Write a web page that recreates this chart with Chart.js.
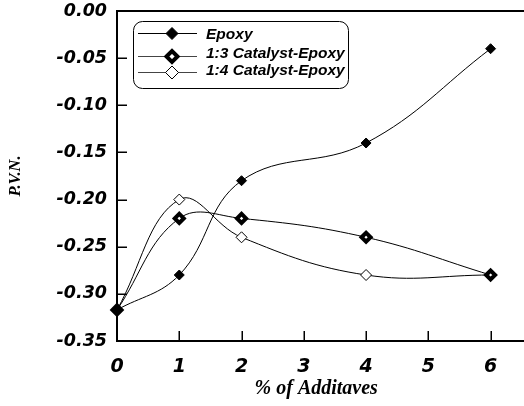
<!DOCTYPE html>
<html>
<head>
<meta charset="utf-8">
<script src="https://cdn.jsdelivr.net/npm/chart.js@4.4.1/dist/chart.umd.min.js"></script>
<style>
  html, body { margin: 0; padding: 0; background: #ffffff; }
  #wrap { width: 524px; height: 406px; position: relative; }
</style>
</head>
<body>
<div id="wrap"><canvas id="pvn"></canvas></div>
<script>
// Additive content (%) and P.V.N. values for each resin system
const additive = [0, 1, 2, 4, 6];
const epoxy = [-0.317, -0.28, -0.18, -0.14, -0.04];
const catalyst13 = [-0.317, -0.22, -0.22, -0.24, -0.28];
const catalyst14 = [-0.317, -0.20, -0.24, -0.28, -0.28];
const seriesNames = ['Epoxy', '1:3 Catalyst-Epoxy', '1:4 Catalyst-Epoxy'];
const xTickValues = [0, 1, 2, 3, 4, 5, 6];

const pairs = ys => additive.map((x, i) => ({ x: x, y: ys[i] }));

const markerStyles = [
  { pointStyle: 'rectRot', radius: 5, backgroundColor: '#000', borderColor: '#000', borderWidth: 1 },
  { pointStyle: 'rectRot', radius: 4.5, backgroundColor: '#fff', borderColor: '#000', borderWidth: 4 },
  { pointStyle: 'rectRot', radius: 5.5, backgroundColor: '#fff', borderColor: '#000', borderWidth: 1 }
];

const datasets = [epoxy, catalyst13, catalyst14].map((ys, i) => ({
  label: seriesNames[i],
  data: pairs(ys),
  showLine: true,
  tension: 0.4,
  borderColor: '#000',
  borderWidth: 1,
  pointStyle: markerStyles[i].pointStyle,
  pointRadius: markerStyles[i].radius,
  pointBackgroundColor: markerStyles[i].backgroundColor,
  pointBorderColor: markerStyles[i].borderColor,
  pointBorderWidth: markerStyles[i].borderWidth,
  clip: false
}));

// Frame, inward tick marks and the boxed legend
const framePlugin = {
  id: 'frame',
  afterDatasetsDraw(chart) {
    const { ctx, chartArea: a, scales } = chart;
    ctx.save();
    ctx.strokeStyle = '#000';
    ctx.lineWidth = 2;
    ctx.beginPath();
    ctx.moveTo(a.left, a.top);
    ctx.lineTo(chart.width, a.top);
    ctx.moveTo(a.left, a.top - 1);
    ctx.lineTo(a.left, a.bottom);
    ctx.lineTo(chart.width, a.bottom);
    ctx.stroke();

    ctx.lineWidth = 1.5;
    ctx.beginPath();
    scales.y.ticks.forEach(t => {
      const py = Math.round(scales.y.getPixelForValue(t.value)) + 0.25;
      ctx.moveTo(a.left, py);
      ctx.lineTo(a.left + 10, py);
    });
    scales.x.ticks.forEach(t => {
      const px = Math.round(scales.x.getPixelForValue(t.value)) + 0.25;
      ctx.moveTo(px, a.bottom);
      ctx.lineTo(px, a.bottom - 10);
    });
    ctx.stroke();

    // legend box
    const bx = 133.5, by = 21.5, bw = 215, bh = 67;
    ctx.lineWidth = 1;
    ctx.fillStyle = '#fff';
    ctx.beginPath();
    ctx.roundRect(bx, by, bw, bh, 9);
    ctx.fill();
    ctx.stroke();

    const rowLine = [33, 56, 72];
    const rowText = [35, 53.5, 70.5];
    const lineColors = ['#000', '#444', '#444'];
    ctx.font = "bold italic 15.5px 'Liberation Sans', Arial, sans-serif";
    ctx.textBaseline = 'middle';
    ctx.textAlign = 'left';
    seriesNames.forEach((name, i) => {
      ctx.strokeStyle = lineColors[i];
      ctx.lineWidth = 1;
      ctx.beginPath();
      ctx.moveTo(138, rowLine[i] + 0.5);
      ctx.lineTo(197, rowLine[i] + 0.5);
      ctx.stroke();
      const m = markerStyles[i];
      ctx.fillStyle = m.backgroundColor;
      ctx.strokeStyle = m.borderColor;
      ctx.lineWidth = m.borderWidth;
      Chart.helpers.drawPoint(ctx, {
        pointStyle: m.pointStyle,
        radius: m.radius + 1,
        rotation: 0,
        borderWidth: m.borderWidth
      }, 172, rowLine[i] + 0.5);
      ctx.fillStyle = '#000';
      ctx.fillText(name, 206, rowText[i]);
    });
    ctx.restore();
  }
};

new Chart(document.getElementById('pvn'), {
  type: 'scatter',
  data: { datasets: datasets },
  options: {
    responsive: true,
    maintainAspectRatio: false,
    animation: false,
    layout: { padding: { top: 11, right: 1, left: 0, bottom: 0 } },
    plugins: {
      legend: { display: false },
      tooltip: { enabled: false }
    },
    scales: {
      x: {
        type: 'linear',
        min: 0,
        max: 6.4,
        afterBuildTicks: s => { s.ticks = xTickValues.map(v => ({ value: v })); },
        afterFit: s => { s.height = 65; s.paddingLeft = 0; s.paddingRight = 0; },
        grid: { display: false, drawTicks: false },
        border: { display: false },
        ticks: {
          color: '#000',
          padding: 15,
          maxRotation: 0,
          font: { family: "'DejaVu Sans', sans-serif", size: 19, style: 'italic', weight: 'bold' },
          callback: v => String(v)
        },
        title: {
          display: true,
          text: '% of Additaves',
          color: '#000',
          padding: { top: 0, bottom: 5 },
          font: { family: "'Liberation Serif', 'Times New Roman', serif", size: 20, style: 'italic', weight: 'bold' }
        }
      },
      y: {
        type: 'linear',
        min: -0.35,
        max: 0,
        afterFit: s => { s.width = 117; s.paddingTop = 0; s.paddingBottom = 0; },
        grid: { display: false, drawTicks: false },
        border: { display: false },
        ticks: {
          stepSize: 0.05,
          color: '#000',
          padding: 10,
          font: { family: "'DejaVu Sans', sans-serif", size: 17.5, style: 'italic', weight: 'bold' },
          callback: v => Number(v).toFixed(2)
        },
        title: {
          display: true,
          text: 'P.V.N.',
          color: '#000',
          padding: { top: 6, bottom: 0 },
          font: { family: "'Liberation Serif', 'Times New Roman', serif", size: 16.5, style: 'italic', weight: 'bold' }
        }
      }
    }
  },
  plugins: [framePlugin]
});
</script>
</body>
</html>
